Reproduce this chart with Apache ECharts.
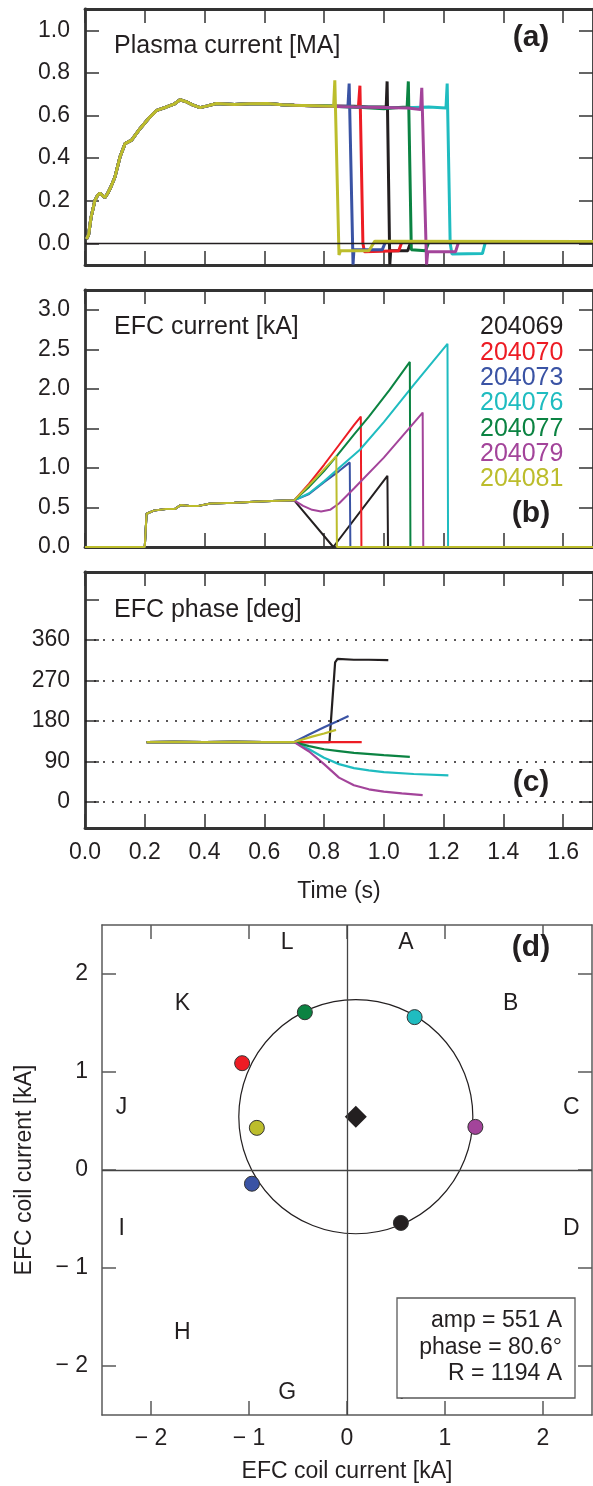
<!DOCTYPE html>
<html><head><meta charset="utf-8">
<script src="https://cdn.jsdelivr.net/npm/echarts@6.0.0/dist/echarts.min.js"></script>
<style>html,body{margin:0;padding:0;background:#fff}#c{width:593px;height:1486px}</style>
</head><body><div id="c"></div>
<script>
// ---------- data ----------
const shots = ['204069','204070','204073','204076','204077','204079','204081'];
const shotColors = ['#231f20','#ed1c24','#3a53a4','#1fbcc0','#0b8342','#a3449a','#bcbd2c'];
const timeTicks = [0,0.2,0.4,0.6,0.8,1.0,1.2,1.4,1.6];
const ipTicks = [0,0.2,0.4,0.6,0.8,1.0];
const efcTicks = [0,0.5,1.0,1.5,2.0,2.5,3.0];
const phaseTicks = [0,90,180,270,360,450];
const phaseLabels = [0,90,180,270,360];
const phaseGrid = [0,90,180,270,360];
const coilTicks = [-2,-1,0,1,2];

// (a) plasma current [MA], common ramp-up then per-shot tails
const ipRamp = [[0.005,0.02],[0.012,0.04],[0.02,0.12],[0.033,0.2],[0.042,0.225],[0.05,0.235],[0.058,0.225],[0.067,0.215],[0.076,0.235],[0.084,0.257],[0.1,0.31],[0.117,0.405],[0.134,0.468],[0.156,0.484],[0.184,0.538],[0.212,0.585],[0.24,0.624],[0.273,0.64],[0.3,0.655],[0.318,0.674],[0.34,0.664],[0.36,0.65],[0.385,0.637],[0.41,0.645],[0.44,0.656],[0.5,0.652],[0.55,0.655],[0.61,0.656],[0.66,0.65],[0.7,0.648]];
const ipTail204069 = [[0.8,0.645],[0.9,0.643],[0.95,0.64],[1.0,0.64],[1.008,0.64],[1.011,0.76],[1.02,-0.1],[1.023,-0.035],[1.08,-0.035],[1.09,0.005],[1.7,0.005]];
const ipTail204070 = [[0.8,0.645],[0.85,0.643],[0.915,0.64],[0.92,0.74],[0.93,0.0],[0.935,-0.04],[1.05,-0.035],[1.06,0.005],[1.7,0.005]];
const ipTail204073 = [[0.8,0.645],[0.88,0.643],[0.884,0.75],[0.897,-0.1],[0.9,-0.03],[0.995,-0.03],[1.005,0.005],[1.7,0.005]];
const ipTail204076 = [[0.8,0.645],[0.9,0.64],[1.0,0.638],[1.1,0.637],[1.15,0.64],[1.208,0.635],[1.212,0.75],[1.222,0.0],[1.228,-0.05],[1.33,-0.048],[1.34,0.005],[1.7,0.005]];
const ipTail204077 = [[0.8,0.645],[0.9,0.64],[1.0,0.632],[1.05,0.638],[1.078,0.64],[1.082,0.76],[1.092,-0.03],[1.14,-0.035],[1.15,0.005],[1.7,0.005]];
const ipTail204079 = [[0.8,0.643],[0.9,0.64],[1.0,0.638],[1.08,0.635],[1.123,0.628],[1.127,0.73],[1.143,-0.1],[1.147,-0.04],[1.24,-0.04],[1.25,0.005],[1.7,0.005]];
const ipTail204081 = [[0.8,0.645],[0.832,0.643],[0.836,0.765],[0.85,-0.055],[0.855,-0.035],[0.95,-0.035],[0.97,0.01],[1.7,0.008]];

// (b) EFC current [kA]
const efcRamp = [[0,0],[0.2,0],[0.206,0.42],[0.23,0.46],[0.27,0.48],[0.3,0.48],[0.32,0.53],[0.35,0.52],[0.38,0.52],[0.42,0.55],[0.5,0.56],[0.6,0.58],[0.7,0.59]];
const efcTail204069 = [[0.831,0.0],[1.012,0.9],[1.014,0],[1.7,0]];
const efcTail204070 = [[0.75,0.8],[0.8,1.04],[0.85,1.29],[0.9,1.54],[0.923,1.65],[0.925,0],[1.7,0]];
const efcTail204073 = [[0.75,0.67],[0.8,0.82],[0.85,0.96],[0.886,1.07],[0.888,0],[1.7,0]];
const efcTail204076 = [[0.75,0.68],[0.8,0.83],[0.85,1.0],[0.92,1.23],[1.0,1.58],[1.1,2.05],[1.213,2.57],[1.215,0],[1.7,0]];
const efcTail204077 = [[0.75,0.76],[0.8,0.96],[0.842,1.15],[0.9,1.42],[0.95,1.65],[1.02,1.99],[1.087,2.34],[1.089,0],[1.7,0]];
const efcTail204079 = [[0.73,0.52],[0.76,0.47],[0.79,0.45],[0.82,0.47],[0.85,0.55],[0.9,0.74],[1.0,1.13],[1.13,1.70],[1.132,0],[1.7,0]];
const efcTail204081 = [[0.77,0.86],[0.841,1.15],[0.843,0],[1.7,0]];

// (c) EFC phase [deg]
const phaseRamp = [[0.206,133],[0.3,133.5],[0.4,133],[0.5,133.5],[0.6,133],[0.7,133]];
const phaseTail204069 = [[0.75,133],[0.818,133],[0.837,310],[0.845,318],[0.9,316],[0.95,316],[1.015,315]];
const phaseTail204070 = [[0.8,133],[0.926,133]];
const phaseTail204073 = [[0.75,150],[0.8,166],[0.85,181],[0.882,191]];
const phaseTail204076 = [[0.75,117],[0.8,98],[0.85,84],[0.9,75],[0.95,70],[1.0,66],[1.1,62],[1.216,59]];
const phaseTail204077 = [[0.75,124],[0.8,117],[0.85,113],[0.9,109],[1.0,104],[1.087,100]];
const phaseTail204079 = [[0.75,112],[0.8,84],[0.85,54],[0.9,37],[0.95,28],[1.0,23],[1.06,19],[1.13,15]];
const phaseTail204081 = [[0.76,145],[0.8,152],[0.84,160]];

// (d) EFC coil current points [kA]
const coilX = [0.55,-1.07,-0.97,0.69,-0.43,1.31,-0.92];
const coilY = [-0.54,1.09,-0.14,1.56,1.61,0.44,0.43];
const fitAmp = 551;      // A
const fitPhase = 80.6;   // deg
const fitR = 1194;       // A
const octantNames = ['A','B','C','D','E','F','G','H','I','J','K','L'];
const octantX = [0.60,1.67,2.29,2.29,1.67,0.60,-0.61,-1.68,-2.30,-2.30,-1.68,-0.61];
const octantY = [2.32,1.70,0.64,-0.60,-1.66,-2.27,-2.27,-1.66,-0.60,0.64,1.70,2.32];

// ---------- chart ----------
const FONT = '"Liberation Sans", Arial, Helvetica, sans-serif';
const TXT = '#231f20';
const ipTails = [ipTail204069,ipTail204070,ipTail204073,ipTail204076,ipTail204077,ipTail204079,ipTail204081];
const efcTails = [efcTail204069,efcTail204070,efcTail204073,efcTail204076,efcTail204077,efcTail204079,efcTail204081];
const phaseTails = [phaseTail204069,phaseTail204070,phaseTail204073,phaseTail204076,phaseTail204077,phaseTail204079,phaseTail204081];

const grids = [
  {left:85, top:9, width:508, height:256},
  {left:85, top:290, width:508, height:257},
  {left:85, top:572, width:508, height:256},
  {left:102, top:925, width:490, height:490}
];

function axis(g, pos, min, max, ticks, labelTicks, showLabel, fmt, frame, extra) {
  return Object.assign({
    gridIndex:g, type:'value', position:pos, min:min, max:max,
    axisLine:{show:true, onZero:false, lineStyle:{color:frame.color, width:frame.width}},
    axisTick:{show:true, inside:true, length:14, customValues:ticks, lineStyle:{color:frame.color, width:1.5}},
    axisLabel:{show:showLabel, customValues:labelTicks, formatter:fmt, color:TXT, fontFamily:FONT, fontSize:frame.fs, margin:frame.margin},
    splitLine:{show:false}
  }, extra || {});
}
const fA = {color:'#333', width:2.8, fs:23, margin:15};
const fD = {color:'#5a5a5a', width:1.5, fs:23, margin:14};
const f1 = v => v.toFixed(1);
const f0 = v => String(v);
const fCoil = v => v < 0 ? '\u2212 ' + Math.abs(v) : String(v);

const xAxes = [
  axis(0,'bottom',0,1.7,timeTicks,timeTicks,false,f1,fA),
  axis(0,'top',0,1.7,timeTicks,timeTicks,false,f1,fA),
  axis(1,'bottom',0,1.7,timeTicks,timeTicks,false,f1,fA),
  axis(1,'top',0,1.7,timeTicks,timeTicks,false,f1,fA),
  axis(2,'bottom',0,1.7,timeTicks,timeTicks,true,f1,Object.assign({},fA,{margin:13}),
       {name:'Time (s)', nameLocation:'middle', nameGap:52, nameTextStyle:{color:TXT, fontFamily:FONT, fontSize:23}}),
  axis(2,'top',0,1.7,timeTicks,timeTicks,false,f1,fA),
  axis(3,'bottom',-2.5,2.5,coilTicks,coilTicks,true,fCoil,Object.assign({},fD,{margin:12}),
       {name:'EFC coil current [kA]', nameLocation:'middle', nameGap:45, nameTextStyle:{color:TXT, fontFamily:FONT, fontSize:23}}),
  axis(3,'top',-2.5,2.5,coilTicks,coilTicks,false,fCoil,fD)
];
const yAxes = [
  axis(0,'left',-0.102,1.1,ipTicks,ipTicks,true,f1,fA),
  axis(0,'right',-0.102,1.1,ipTicks,ipTicks,false,f1,fA),
  axis(1,'left',0,3.25,efcTicks,efcTicks,true,f1,fA),
  axis(1,'right',0,3.25,efcTicks,efcTicks,false,f1,fA),
  axis(2,'left',-58,511,phaseTicks,phaseLabels,true,f0,fA),
  axis(2,'right',-58,511,phaseTicks,phaseLabels,false,f0,fA),
  axis(3,'left',-2.5,2.5,coilTicks,coilTicks,true,fCoil,fD,
       {name:'EFC coil current [kA]', nameLocation:'middle', nameGap:66, nameTextStyle:{color:TXT, fontFamily:FONT, fontSize:23}}),
  axis(3,'right',-2.5,2.5,coilTicks,coilTicks,false,fCoil,fD)
];

const series = [];
// reference lines
series.push({type:'line', xAxisIndex:0, yAxisIndex:0, data:[], silent:true,
  markLine:{silent:true, symbol:'none', animation:false, label:{show:false},
    lineStyle:{color:'#231f20', width:1.3, type:'solid'}, data:[{yAxis:0}]}});
series.push({type:'line', xAxisIndex:4, yAxisIndex:4, data:[], silent:true,
  markLine:{silent:true, symbol:'none', animation:false, label:{show:false},
    lineStyle:{color:'#231f20', width:1.6, type:[2,7]}, data:phaseGrid.map(v=>({yAxis:v}))}});
series.push({type:'line', xAxisIndex:6, yAxisIndex:6, data:[], silent:true,
  markLine:{silent:true, symbol:'none', animation:false, label:{show:false},
    lineStyle:{color:'#444', width:1.3, type:'solid'}, data:[{yAxis:0},{xAxis:0}]}});

shots.forEach((s,i) => {
  const c = shotColors[i];
  const base = {name:s, type:'line', showSymbol:false, symbol:'none', emphasis:{disabled:true}, itemStyle:{color:c}};
  series.push(Object.assign({}, base, {xAxisIndex:0, yAxisIndex:0, data:ipRamp.concat(ipTails[i]), lineStyle:{color:c, width:3}}));
  series.push(Object.assign({}, base, {xAxisIndex:2, yAxisIndex:2, data:efcRamp.concat(efcTails[i]), lineStyle:{color:c, width:2}}));
  series.push(Object.assign({}, base, {xAxisIndex:4, yAxisIndex:4, data:phaseRamp.concat(phaseTails[i]), lineStyle:{color:c, width:2.2}}));
});

// fit circle
const fitCx = fitAmp/1000*Math.cos(fitPhase*Math.PI/180);
const fitCy = fitAmp/1000*Math.sin(fitPhase*Math.PI/180);
series.push({type:'custom', xAxisIndex:6, yAxisIndex:6, silent:true, z:3,
  data:[[fitCx, fitCy, fitR/1000]],
  renderItem:(params, api) => {
    const c = api.coord([api.value(0), api.value(1)]);
    const r = api.size([api.value(2), 0])[0];
    return {type:'circle', shape:{cx:c[0], cy:c[1], r:r}, style:{fill:'none', stroke:'#231f20', lineWidth:1.2}};
  }});
series.push({type:'scatter', xAxisIndex:6, yAxisIndex:6, silent:true, z:4, symbol:'diamond', symbolSize:22,
  data:[[fitCx, fitCy]], itemStyle:{color:'#231f20', opacity:1}});
shots.forEach((s,i) => {
  series.push({name:s, type:'scatter', xAxisIndex:6, yAxisIndex:6, z:5, symbolSize:15, emphasis:{disabled:true},
    data:[[coilX[i], coilY[i]]], itemStyle:{color:shotColors[i], borderColor:'#333', borderWidth:1, opacity:1}});
});
series.push({type:'scatter', xAxisIndex:6, yAxisIndex:6, silent:true, symbolSize:0, z:2,
  itemStyle:{opacity:1},
  data:octantNames.map((n,i)=>[octantX[i], octantY[i], n]),
  label:{show:true, position:'inside', formatter:p=>p.value[2], color:TXT, fontFamily:FONT, fontSize:23}});

function txt(t, x, y, size, opts) {
  return {type:'text', z:100, style:{text:t, x:x, y:y, fill:TXT,
    font:(opts && opts.bold ? 'bold ' : '') + size + 'px ' + FONT,
    textAlign:(opts && opts.align) || 'left', textVerticalAlign:'middle'}};
}

const option = {
  animation:false,
  backgroundColor:'#fff',
  grid:grids,
  xAxis:xAxes,
  yAxis:yAxes,
  legend:{
    data:shots.map((s,i)=>({name:s, textStyle:{color:shotColors[i]}})),
    orient:'vertical', left:475, top:315, icon:'none', itemWidth:0, itemHeight:24, itemGap:0.3, padding:0,
    textStyle:{fontSize:25, fontFamily:FONT, lineHeight:24}
  },
  graphic:[
    txt('Plasma current [MA]', 114, 46, 25),
    txt('EFC current [kA]', 114, 327, 25),
    txt('EFC phase [deg]', 114, 610, 25),
    txt('(a)', 531, 38, 30, {bold:true, align:'center'}),
    txt('(b)', 531, 514, 30, {bold:true, align:'center'}),
    txt('(c)', 531, 783, 30, {bold:true, align:'center'}),
    txt('(d)', 531, 948, 30, {bold:true, align:'center'}),
    {type:'rect', z:90, shape:{x:397, y:1298, width:178, height:100}, style:{fill:'#fff', stroke:'#5a5a5a', lineWidth:1.3}},
    txt('amp = ' + fitAmp + ' A', 562, 1321, 23, {align:'right'}),
    txt('phase = ' + fitPhase.toFixed(1) + '\u00b0', 562, 1348, 23, {align:'right'}),
    txt('R = ' + fitR + ' A', 562, 1374, 23, {align:'right'})
  ],
  series:series
};
const chart = echarts.init(document.getElementById('c'), null, {renderer:'canvas'});
chart.setOption(option);
</script>
</body></html>
